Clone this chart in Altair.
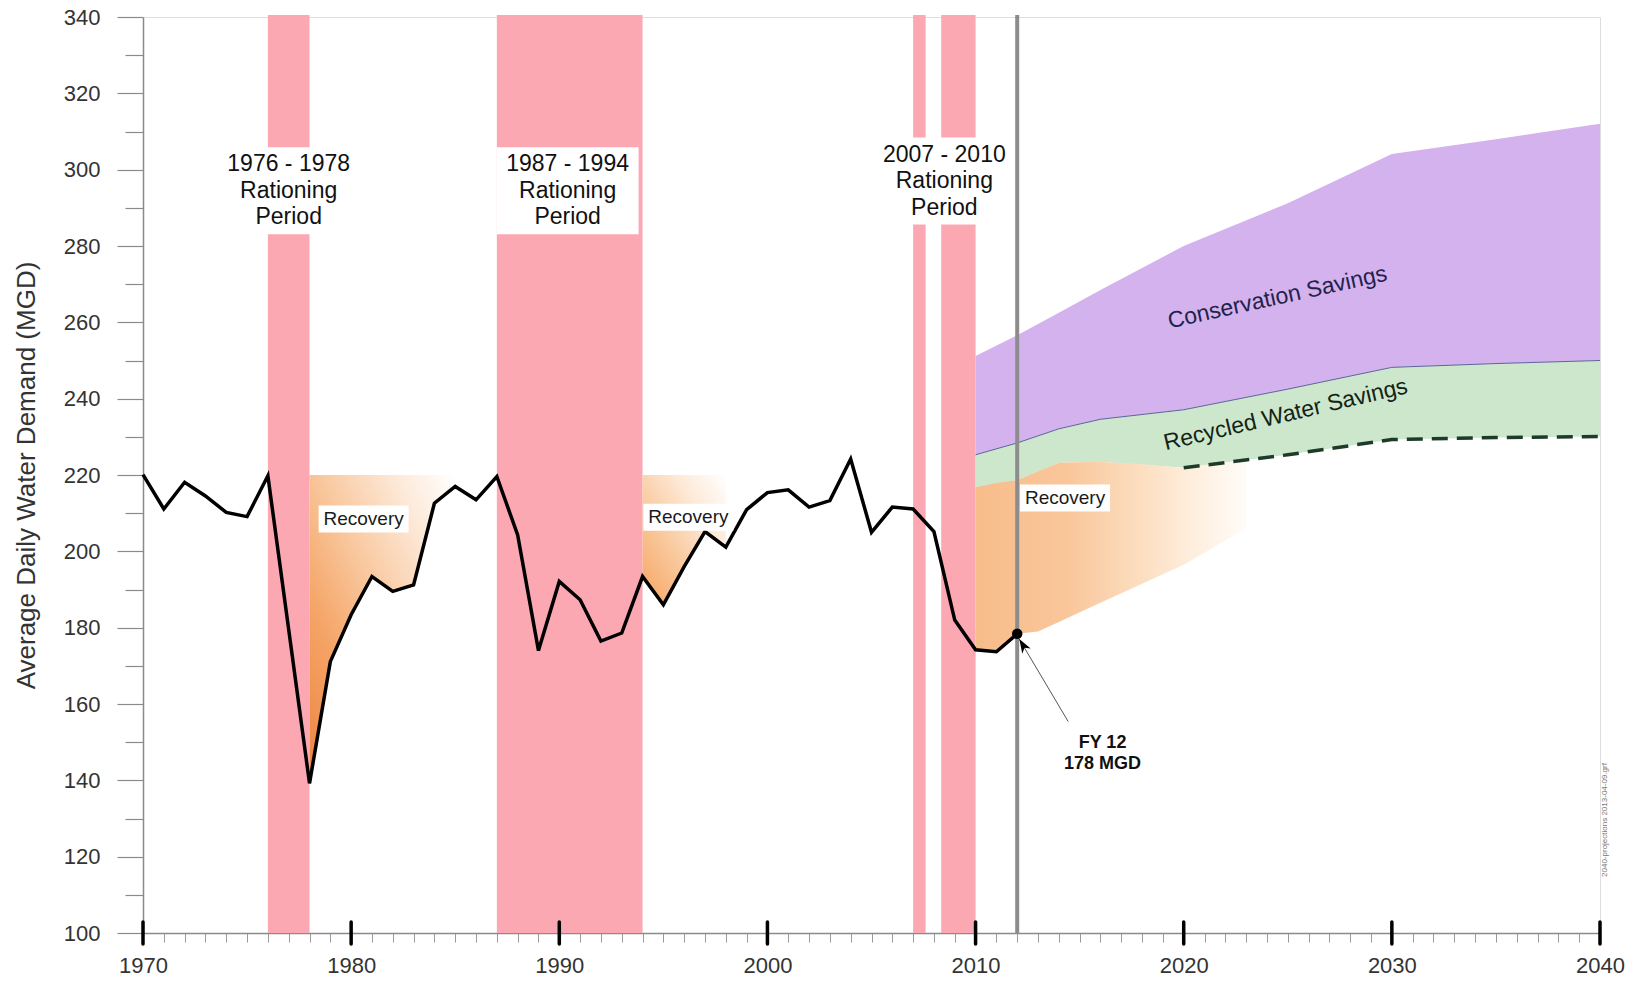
import altair as alt
import pandas as pd

# ---------------- data ----------------
years = [1970, 1971, 1972, 1973, 1974, 1975, 1976, 1978, 1979, 1980, 1981, 1982,
         1983, 1984, 1985, 1986, 1987, 1988, 1989, 1990, 1991, 1992, 1993, 1994,
         1995, 1996, 1997, 1998, 1999, 2000, 2001, 2002, 2003, 2004, 2005, 2006,
         2007, 2008, 2009, 2010, 2011, 2012]
demand = [220.1, 211.1, 218.1, 214.5, 210.2, 209.1, 219.8, 139.2, 171.1, 183.4, 193.4, 189.5,
          191.2, 212.6, 217.0, 213.5, 219.6, 204.3, 174.0, 192.1, 187.3, 176.5, 178.6, 193.4,
          186.0, 196.0, 205.2, 201.1, 210.9, 215.4, 216.1, 211.6, 213.3, 224.2, 205.0, 211.6,
          211.1, 205.2, 182.0, 174.2, 173.7, 178.4]

band_start = [1976, 1987, 2007, 2008.35]
band_end = [1978, 1994, 2007.6, 2010]

ration_text = ["1976 - 1978\nRationing\nPeriod",
               "1987 - 1994\nRationing\nPeriod",
               "2007 - 2010\nRationing\nPeriod"]
ration_x = [1977, 1990.4, 2008.5]
ration_y = [294.5, 294.5, 297.0]

rec1_years = [1978, 1979, 1980, 1981, 1982, 1983, 1984, 1985]
rec1_low = [139.2, 171.1, 183.4, 193.4, 189.5, 191.2, 212.6, 217.0]
rec2_years = [1994, 1995, 1996, 1997, 1998]
rec2_low = [193.4, 186.0, 196.0, 205.2, 201.1]
rec_top = 220

rec3_years = [2010, 2011, 2012, 2013, 2014, 2016, 2018, 2020, 2023]
rec3_low = [174.2, 173.7, 178.4, 179.0, 181.5, 186.5, 191.5, 196.5, 206.0]
rec3_high = [216.8, 217.9, 218.7, 221.0, 223.2, 223.5, 222.8, 221.9, 224.0]

recovery_x = [1980.6, 1996.2, 2014.3]
recovery_y = [208.5, 208.9, 214.0]

proj_years = [2010, 2012, 2014, 2016, 2020, 2025, 2030, 2035, 2040]
conservation_top = [251.2, 256.6, 262.5, 268.5, 280.0, 291.2, 304.1, 308.0, 312.0]
recycled_top = [225.3, 228.4, 232.1, 234.6, 237.1, 242.5, 248.2, 249.2, 250.0]
recycled_bottom = [216.8, 218.7, 223.2, 223.5, 221.9, 225.3, 229.3, 229.8, 230.1]

current_year = 2012
fy_value = 178.4
fy_lines = ["FY 12", "178 MGD"]
fy_text_x = [2016.1, 2016.1]
fy_text_y = [149.8, 144.3]
arrow_from = (2014.45, 155.4)
arrow_to = (2012.1, 177.0)

savings_text = ["Conservation Savings", "Recycled Water Savings"]
savings_x = [2024.5, 2024.9]
savings_y = [266.5, 235.8]

decades = list(range(1970, 2041, 10))
file_note = "2040-projections 2013-04-09.grf"
file_note_pos = (2040, 129.6)

# ---------------- styles ----------------
FONT = "Liberation Sans"
PINK = "#FBA8B2"
PURPLE = "#D4B2EE"
GREEN = "#CDE7CC"

XS = alt.Scale(domain=[1970, 2040], nice=False, zero=False)
YS = alt.Scale(domain=[100, 340], nice=False, zero=False)

XA = alt.Axis(title=None, values=list(range(1970, 2041)), format="d",
              labelExpr="datum.value % 10 === 0 ? datum.label : ''",
              tickSize=9, tickColor="#9a9a9a", tickWidth=1,
              domainColor="#8a8a8a", domainWidth=1.5,
              labelFont=FONT, labelFontSize=22, labelColor="#333333",
              labelPadding=13, labelFlush=False, labelOverlap=False, grid=False)
YA = alt.Axis(title="Average Daily Water Demand (MGD)", values=list(range(100, 341, 10)),
              labelExpr="datum.value % 20 === 0 ? datum.label : ''",
              tickSize={"condition": {"test": "datum.value % 20 === 0", "value": 26}, "value": 18},
              tickColor="#8a8a8a", tickWidth=1.2,
              domainColor="#8a8a8a", domainWidth=1.5,
              labelFont=FONT, labelFontSize=22, labelColor="#333333",
              labelPadding=17, labelOverlap=False, grid=False,
              titleFont=FONT, titleFontSize=26, titleFontWeight="normal",
              titleColor="#333333", titleX=-104, titleY=458)


def X(field=None, datum=None):
    if datum is not None:
        return alt.X(datum=datum, type="quantitative", scale=XS, axis=XA)
    return alt.X(field, type="quantitative", scale=XS, axis=XA)


def Y(field=None, datum=None):
    if datum is not None:
        return alt.Y(datum=datum, type="quantitative", scale=YS, axis=YA)
    return alt.Y(field, type="quantitative", scale=YS, axis=YA)


def grad(stops, x1, y1, x2, y2):
    return {"gradient": "linear", "x1": x1, "y1": y1, "x2": x2, "y2": y2,
            "stops": [{"offset": o, "color": c} for o, c in stops]}


def rect_path(w, h):
    r = h / w
    return f"M-1,{-r} L1,{-r} L1,{r} L-1,{r} Z"


layers = []

# rationing bands
bands = pd.DataFrame({"start": band_start, "end": band_end})
layers.append(alt.Chart(bands).mark_rect(color=PINK, y2Offset=-2).encode(
    x=X("start"), x2="end", y=Y(datum=100), y2=alt.Y2(datum=340)))

# white boxes behind rationing labels
ration_box_px = [(131, 87), (142, 87), (132, 87)]
for i, (w, h) in enumerate(ration_box_px):
    d = pd.DataFrame({"x": [ration_x[i]], "y": [ration_y[i]]})
    layers.append(alt.Chart(d).mark_point(shape=rect_path(w, h), size=w * w, filled=True,
                                          fill="white", opacity=1, strokeWidth=0).encode(
        x=X("x"), y=Y("y")))

# historic recovery areas
rec1 = pd.DataFrame({"year": rec1_years, "low": rec1_low, "high": [rec_top] * len(rec1_years)})
layers.append(alt.Chart(rec1).mark_area(
    fill=grad([(0, "#EE843F"), (0.3, "#F5A568"), (0.55, "#F9CAA2"), (0.8, "#FDEADA"), (1, "#FFFFFF")],
              0, 1, 1, 0)).encode(x=X("year"), y=Y("low"), y2="high"))

rec2 = pd.DataFrame({"year": rec2_years, "low": rec2_low, "high": [rec_top] * len(rec2_years)})
layers.append(alt.Chart(rec2).mark_area(
    fill=grad([(0, "#F6A462"), (0.35, "#F9C597"), (0.7, "#FDE9D6"), (1, "#FFFFFF")],
              0, 1, 1, 0)).encode(x=X("year"), y=Y("low"), y2="high"))

# projections
proj = pd.DataFrame({"year": proj_years, "cons": conservation_top,
                     "rtop": recycled_top, "rbot": recycled_bottom})
layers.append(alt.Chart(proj).mark_area(color=PURPLE, opacity=1).encode(
    x=X("year"), y=Y("rtop"), y2="cons"))
layers.append(alt.Chart(proj).mark_area(color=GREEN, opacity=1).encode(
    x=X("year"), y=Y("rbot"), y2="rtop"))

rec3 = pd.DataFrame({"year": rec3_years, "low": rec3_low, "high": rec3_high})
layers.append(alt.Chart(rec3).mark_area(
    fill=grad([(0, "#F8BC8A"), (0.35, "#F9C79C"), (0.6, "#FCDDBE"), (0.8, "#FEEEDD"), (1, "#FFFCF8")],
              0, 0, 1, 0)).encode(x=X("year"), y=Y("low"), y2="high"))

layers.append(alt.Chart(proj).mark_line(color="#5A6499", strokeWidth=1).encode(
    x=X("year"), y=Y("rtop")))
layers.append(alt.Chart(proj[proj["year"] >= 2020]).mark_line(
    color="#1E3B2A", strokeWidth=3.5, strokeDash=[16, 9]).encode(x=X("year"), y=Y("rbot")))

# current-year rule
layers.append(alt.Chart(pd.DataFrame({"x": [current_year]})).mark_rule(
    color="#8C8C8C", strokeWidth=4, y2Offset=-2).encode(
    x=X("x"), y=Y(datum=100), y2=alt.Y2(datum=340)))

# demand line
hist = pd.DataFrame({"year": years, "demand": demand})
layers.append(alt.Chart(hist).mark_line(color="black", strokeWidth=3.5, strokeJoin="miter").encode(
    x=X("year"), y=Y("demand")))

# FY12 point and arrow
layers.append(alt.Chart(pd.DataFrame({"x": [current_year], "y": [fy_value]})).mark_point(
    filled=True, color="black", size=110, opacity=1).encode(x=X("x"), y=Y("y")))
arrow = pd.DataFrame({"x": [arrow_from[0]], "y": [arrow_from[1]],
                      "x2": [arrow_to[0]], "y2": [arrow_to[1]]})
layers.append(alt.Chart(arrow).mark_rule(color="#555555", strokeWidth=1).encode(
    x=X("x"), y=Y("y"), x2="x2", y2="y2"))
layers.append(alt.Chart(pd.DataFrame({"x": [arrow_to[0]], "y": [arrow_to[1]]})).mark_point(
    shape="M0,0 L0.7,2 L0,1.45 L-0.7,2 Z", size=196, angle=329, filled=True,
    color="black", opacity=1).encode(x=X("x"), y=Y("y")))
fy = pd.DataFrame({"x": fy_text_x, "y": fy_text_y, "t": fy_lines})
layers.append(alt.Chart(fy).mark_text(font=FONT, fontSize=18, fontWeight="bold",
                                      color="#111111").encode(x=X("x"), y=Y("y"), text="t"))

# rationing labels (three lines, block centred on the point)
rat = pd.DataFrame({"x": ration_x, "y": ration_y, "t": ration_text})
layers.append(alt.Chart(rat).mark_text(font=FONT, fontSize=23, lineBreak="\n", lineHeight=26.5,
                                       dy=-26.5, color="#111111").encode(
    x=X("x"), y=Y("y"), text="t"))

# recovery labels
recl = pd.DataFrame({"x": recovery_x, "y": recovery_y, "t": ["Recovery"] * 3})
layers.append(alt.Chart(recl).mark_point(shape=rect_path(90, 27), size=8100, filled=True,
                                         fill="white", opacity=1, strokeWidth=0).encode(
    x=X("x"), y=Y("y")))
layers.append(alt.Chart(recl).mark_text(font=FONT, fontSize=19, color="#1a1a1a").encode(
    x=X("x"), y=Y("y"), text="t"))

# savings labels
sav_angles = [347.6, 346.7]
sav_colors = ["#22224A", "#142214"]
for i in range(2):
    d = pd.DataFrame({"x": [savings_x[i]], "y": [savings_y[i]], "t": [savings_text[i]]})
    layers.append(alt.Chart(d).mark_text(font=FONT, fontSize=23, angle=sav_angles[i],
                                         color=sav_colors[i]).encode(
        x=X("x"), y=Y("y"), text="t"))

# file note
note = pd.DataFrame({"x": [file_note_pos[0]], "y": [file_note_pos[1]], "t": [file_note]})
layers.append(alt.Chart(note).mark_text(font=FONT, fontSize=8, angle=270, dy=5,
                                        color="#777777").encode(x=X("x"), y=Y("y"), text="t"))

# decade ticks crossing the x axis
dec = pd.DataFrame({"x": decades})
layers.append(alt.Chart(dec).mark_rule(color="black", strokeWidth=3.5, strokeCap="round",
                                       yOffset=-11, y2Offset=11).encode(
    x=X("x"), y=Y(datum=100), y2=alt.Y2(datum=100)))

chart = alt.layer(*layers).properties(
    width=1457, height=916,
    autosize=alt.AutoSizeParams(type="none"),
    padding={"left": 135, "top": 9, "right": 30, "bottom": 44},
    background="white",
).configure_view(strokeOpacity=0).configure(font=FONT)

chart.save("out.html", embed_options={"renderer": "svg", "actions": False})
